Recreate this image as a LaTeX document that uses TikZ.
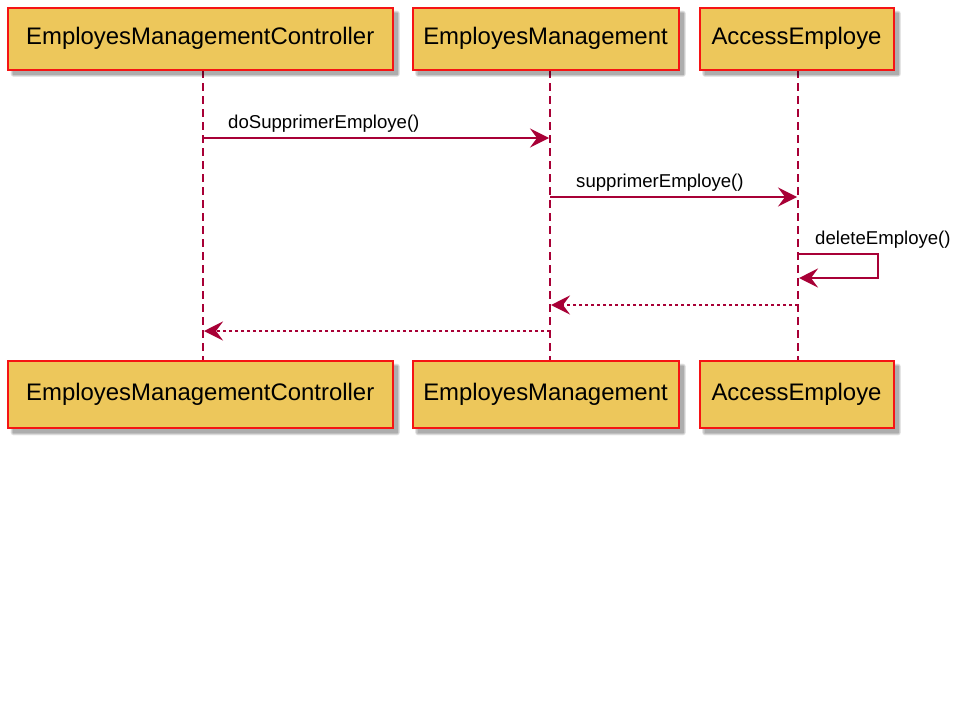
\documentclass[tikz,border=0pt]{standalone}
\usepackage{fontspec}
\setmainfont{Liberation Sans}
\usetikzlibrary{arrows.meta}
\definecolor{lifecol}{RGB}{168,0,54}
\definecolor{partfill}{RGB}{237,199,91}
\definecolor{partedge}{RGB}{245,20,20}
\tikzset{
  x=1pt, y=-1pt,
  participant/.style={draw=partedge, line width=2pt, fill=partfill, inner sep=0pt,
    font=\fontsize{23.9}{28}\selectfont, text=black},
  lifeline/.style={draw=lifecol, line width=2pt, dash pattern=on 8pt off 5pt},
  msg/.style={draw=lifecol, line width=2pt,
    -{Stealth[length=19pt, width=19pt, inset=7pt]}},
  retmsg/.style={msg, dash pattern=on 3pt off 3pt},
  msglabel/.style={anchor=base west, inner sep=0pt, font=\fontsize{18.6}{22}\selectfont},
}
% soft drop shadow behind a box given by its two corners
\newcommand{\boxshadow}[4]{%
  \foreach \g in {0,1,2,3}{%
    \fill[black, opacity=0.09, rounded corners=\g pt]
      ({#1+5-\g*0.8}, {#2+5-\g*0.8}) rectangle ({#3+5+\g*0.8}, {#4+5+\g*0.8});
  }%
}
\begin{document}
\begin{tikzpicture}
\useasboundingbox[fill=white] (0,0) rectangle (960,720);

% lifelines
\coordinate (l1t) at (203,70);  \coordinate (l1b) at (203,360);
\coordinate (l2t) at (550,70);  \coordinate (l2b) at (550,360);
\coordinate (l3t) at (798,70);  \coordinate (l3b) at (798,360);
\draw[lifeline] (l1t) -- (l1b);
\draw[lifeline] (l2t) -- (l2b);
\draw[lifeline] (l3t) -- (l3b);

% shadows of the participant boxes
\boxshadow{8}{8}{392.5}{69.5}
\boxshadow{412.5}{8}{678.5}{69.5}
\boxshadow{699.5}{8}{893.5}{69.5}
\boxshadow{8}{361}{392.5}{428}
\boxshadow{412.5}{361}{678.5}{428}
\boxshadow{699.5}{361}{893.5}{428}

% participants, top row
\node[participant, minimum width=384.5pt, minimum height=61.5pt] (ctrlT) at (200.25,38.75) {EmployesManagementController};
\node[participant, minimum width=266pt, minimum height=61.5pt] (mgmtT) at (545.5,38.75) {EmployesManagement};
\node[participant, minimum width=194pt, minimum height=61.5pt] (accT) at (796.5,38.75) {AccessEmploye};
% participants, bottom row
\node[participant, minimum width=384.5pt, minimum height=67pt] (ctrlB) at (200.25,394.5) {EmployesManagementController};
\node[participant, minimum width=266pt, minimum height=67pt] (mgmtB) at (545.5,394.5) {EmployesManagement};
\node[participant, minimum width=194pt, minimum height=67pt] (accB) at (796.5,394.5) {AccessEmploye};

% message anchor points on the lifelines
\coordinate (m1a) at (203,138);   \coordinate (m1b) at (549,138);
\coordinate (m2a) at (550,197);   \coordinate (m2b) at (797,197);
\coordinate (m3a) at (798,254);   \coordinate (m3b) at (799,278);
\coordinate (m4a) at (798,305);   \coordinate (m4b) at (551,305);
\coordinate (m5a) at (550,331);   \coordinate (m5b) at (204,331);

% calls
\draw[msg] (m1a) -- (m1b);
\node[msglabel] (t1) at (228,128) {doSupprimerEmploye()};
\draw[msg] (m2a) -- (m2b);
\node[msglabel] (t2) at (576,187) {supprimerEmploye()};
\draw[msg] (m3a) -- (878,254) -- (878,278) -- (m3b);
\node[msglabel] (t3) at (815,244) {deleteEmploye()};

% returns
\draw[retmsg] (m4a) -- (m4b);
\draw[retmsg] (m5a) -- (m5b);
\end{tikzpicture}
\end{document}
